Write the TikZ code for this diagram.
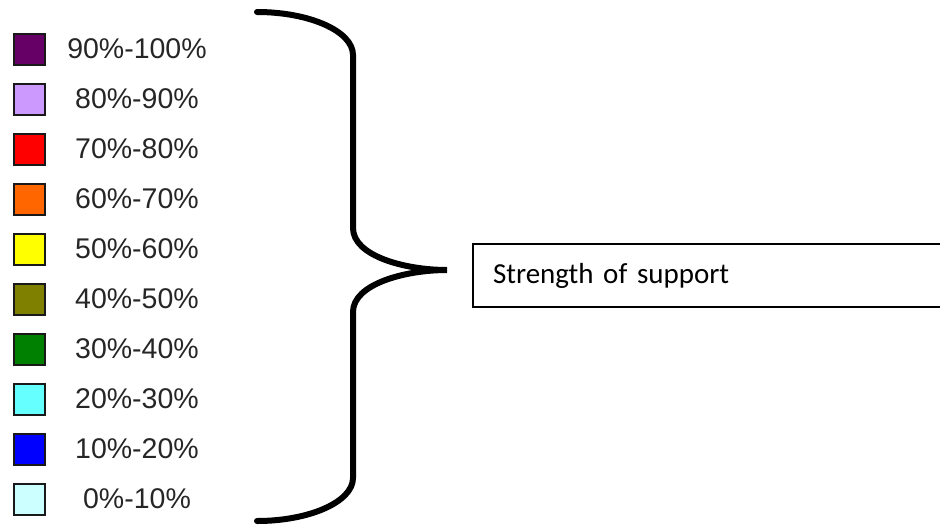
\documentclass[tikz,border=0pt]{standalone}
\usepackage{fontspec}
\setmainfont{Liberation Sans}
\newfontfamily\carlito{Carlito}
\definecolor{c90}{HTML}{660066}
\definecolor{c80}{HTML}{CC99FF}
\definecolor{c70}{HTML}{FF0000}
\definecolor{c60}{HTML}{FF6600}
\definecolor{c50}{HTML}{FFFF00}
\definecolor{c40}{HTML}{808000}
\definecolor{c30}{HTML}{008000}
\definecolor{c20}{HTML}{66FFFF}
\definecolor{c10}{HTML}{0000FF}
\definecolor{c00}{HTML}{CCFFFF}
\tikzset{
  swatch/.style={draw=black!90, line width=2pt, minimum width=31pt, minimum height=31pt, inner sep=0pt, fill=#1},
  legtext/.style={font=\fontsize{28.5}{34}\selectfont, text=black!85, inner sep=0pt},
  bracestyle/.style={line width=6pt, line cap=round},
  labelbox/.style={draw, line width=2pt, anchor=north west, minimum height=63pt, text width=470pt, inner xsep=20pt, align=left, font=\carlito\fontsize{29}{34}\selectfont}
}
\begin{document}
\begin{tikzpicture}[x=1pt,y=-1pt]
\useasboundingbox (0,0) rectangle (940,531);
\clip (0,0) rectangle (940,531);
\foreach \i/\c/\t in {0/c90/90\%-100\%,1/c80/80\%-90\%,2/c70/70\%-80\%,3/c60/60\%-70\%,4/c50/50\%-60\%,5/c40/40\%-50\%,6/c30/30\%-40\%,7/c20/20\%-30\%,8/c10/10\%-20\%,9/c00/0\%-10\%}{
  \node[swatch=\c] (s\i) at (29,{49+50*\i}) {};
  \node[legtext] (t\i) at (137,{49+50*\i}) {\t};
}
\coordinate (tip) at (447,270);
\draw[bracestyle] (257,12) .. controls (309,12) and (353,31) .. (353,55)
  -- (353,228) .. controls (353,256) and (405,270) .. (tip)
  .. controls (405,270) and (353,284) .. (353,312)
  -- (353,478) .. controls (353,502) and (309,521) .. (257,521);
\node[labelbox] (lbl) at (472,243) {Strength of support};
\end{tikzpicture}
\end{document}
